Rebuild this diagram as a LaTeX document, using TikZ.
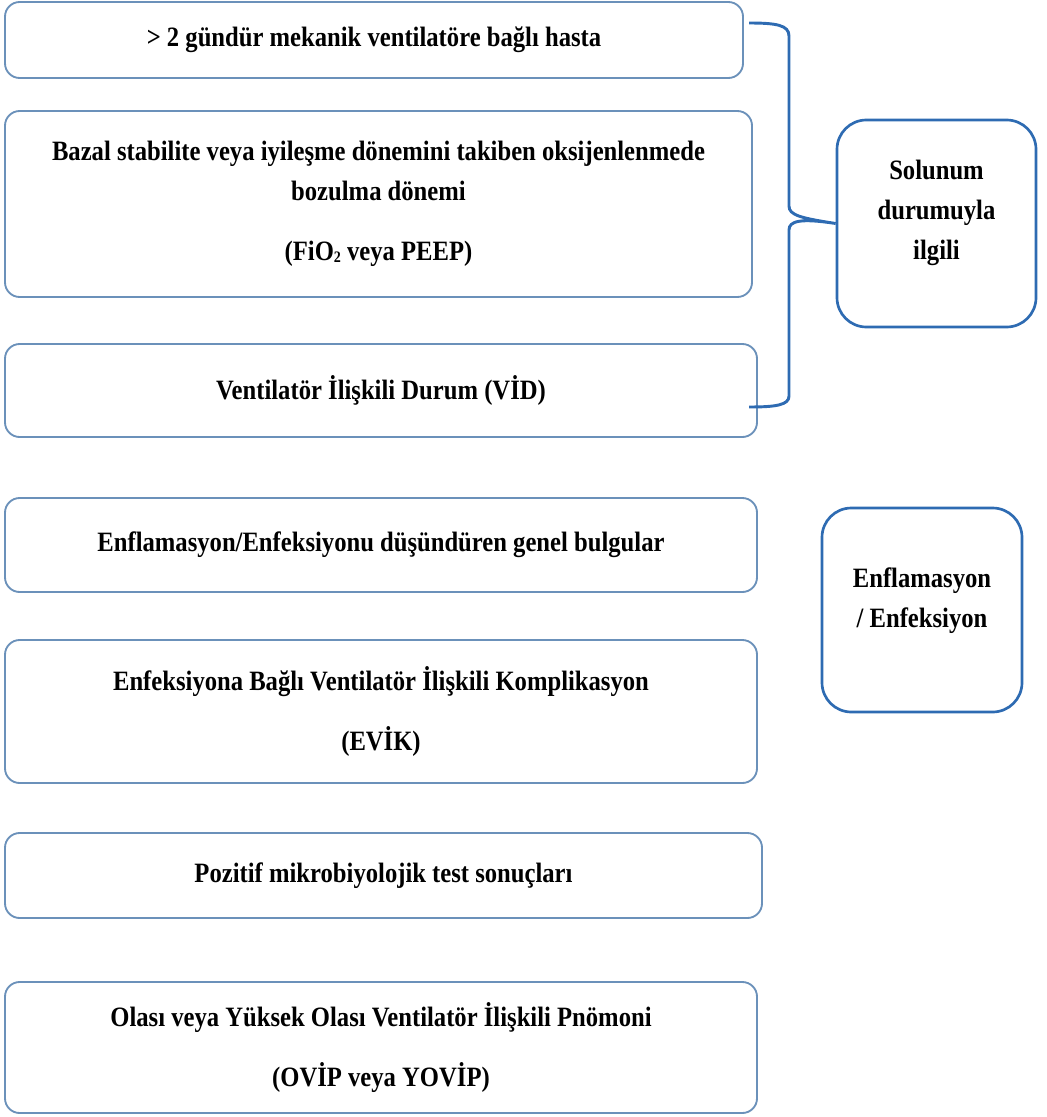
\documentclass[tikz,border=0pt]{standalone}
\usepackage{fontspec}
\setmainfont{Liberation Serif}[FakeStretch=0.88]
\definecolor{lbox}{HTML}{6B91BA}
\definecolor{rbox}{HTML}{2E6BB2}
\begin{document}
\begin{tikzpicture}[x=0.75pt,y=-0.75pt,
  lb/.style={draw=lbox,line width=1.4pt,rounded corners=11pt,inner sep=0pt,align=center,
    font=\fontsize{21}{30}\selectfont\bfseries},
  rb/.style={draw=rbox,line width=2pt,rounded corners=22pt,inner sep=0pt},
  txt/.style={inner sep=0pt,align=center,font=\fontsize{21}{30}\selectfont\bfseries},
  brace/.style={draw=rbox,line width=2.2pt}]
\useasboundingbox (0,0) rectangle (1046,1117);
\node[lb,minimum width=738*0.75pt,minimum height=76*0.75pt] (b1) at (374,40)
  {> 2 gündür mekanik ventilatöre bağlı hasta};
\node[lb,minimum width=747*0.75pt,minimum height=186*0.75pt] (b2) at (378.5,204)
  {Bazal stabilite veya iyileşme dönemini takiben oksijenlenmede\\bozulma dönemi\\[15pt](FiO\raisebox{-0.15ex}{\fontsize{12}{12}\selectfont 2} veya PEEP)};
\node[lb,minimum width=752*0.75pt,minimum height=93*0.75pt] (b3) at (381,390.5)
  {Ventilatör İlişkili Durum (VİD)};
\node[lb,minimum width=752*0.75pt,minimum height=94*0.75pt] (b4) at (381,545)
  {Enflamasyon/Enfeksiyonu düşündüren genel bulgular};
\node[lb,minimum width=752*0.75pt,minimum height=143*0.75pt] (b5) at (381,711.5)
  {Enfeksiyona Bağlı Ventilatör İlişkili Komplikasyon\\[15pt](EVİK)};
\node[lb,minimum width=757*0.75pt,minimum height=85*0.75pt] (b6) at (383.5,875.5)
  {Pozitif mikrobiyolojik test sonuçları};
\node[lb,minimum width=752*0.75pt,minimum height=131*0.75pt] (b7) at (381,1047.5)
  {Olası veya Yüksek Olası Ventilatör İlişkili Pnömoni\\[15pt](OVİP veya YOVİP)};
\node[rb,minimum width=199*0.75pt,minimum height=207*0.75pt] (sol) at (936.5,223.5) {};
\node[txt] (solt) at (936.5,213) {Solunum\\durumuyla\\ilgili};
\node[rb,minimum width=200*0.75pt,minimum height=204*0.75pt] (enf) at (922,610) {};
\node[txt] (enft) at (922,601) {Enflamasyon\\/ Enfeksiyon};
\coordinate (btop) at (749,23);
\coordinate (bbot) at (749,407);
\path[brace] (btop) .. controls (776,23) and (789,25) .. (789,36) -- (789,206)
  .. controls (789,215) and (800,218) .. (sol.west)
  .. controls (800,218) and (789,221) .. (789,230) -- (789,396)
  .. controls (789,405) and (776,407) .. (bbot);
\end{tikzpicture}
\end{document}
